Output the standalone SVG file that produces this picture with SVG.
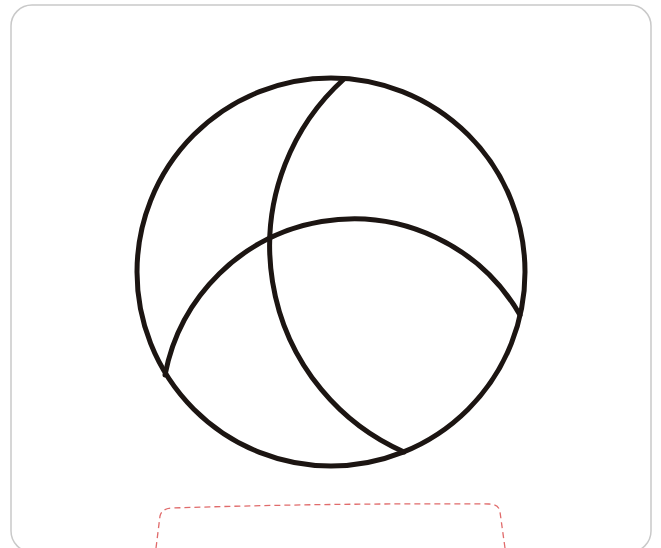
<svg xmlns="http://www.w3.org/2000/svg" width="661" height="548" viewBox="0 0 661 548">
<style>
.ink{fill:none;stroke:#1c1512;stroke-width:5;stroke-linecap:round}
</style>
<rect x="0" y="0" width="661" height="548" fill="#ffffff"/>
<rect id="card" x="11" y="5" width="640" height="547" rx="21" fill="#ffffff" stroke="#c9c9c9" stroke-width="1.5"/>
<g id="ball">
<circle class="ink" cx="331" cy="272" r="194"/>
<path class="ink" d="M344,79 A225,225 0 0 0 404,452"/>
<path class="ink" d="M165,375 A192,192 0 0 1 520,315"/>
</g>
<path id="dashed" d="M156,548 L160,516 Q162,508.5 172,508 Q330,503 489,504 Q499,504 500,512 L505,548" fill="none" stroke="#e06b6b" stroke-width="1.3" stroke-dasharray="6,4"/>
</svg>
